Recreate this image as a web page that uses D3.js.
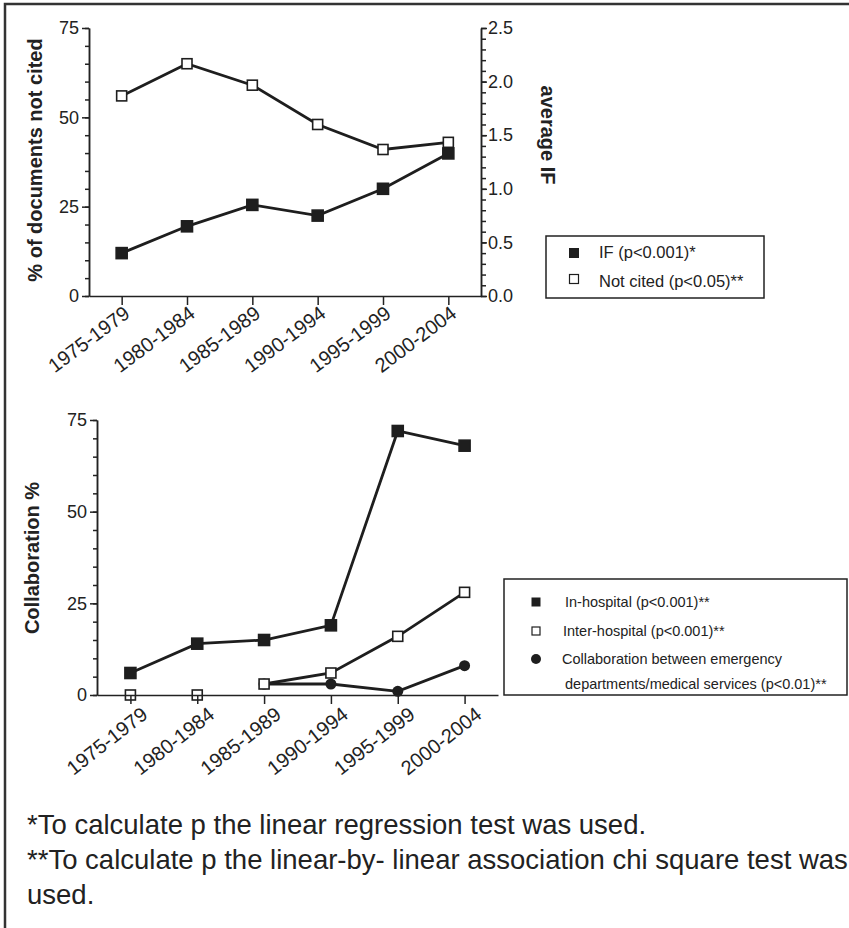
<!DOCTYPE html>
<html>
<head>
<meta charset="utf-8">
<script src="https://cdn.jsdelivr.net/npm/d3@7"></script>
<style>
  body { margin: 0; background: #fff; }
  svg { display: block; font-family: "Liberation Sans", Arial, sans-serif; }
  .axis path, .axis line { stroke: #222; stroke-width: 1.5; }
  .axis text { fill: #222; }
</style>
</head>
<body>
<div id="chart"></div>
<script>
// data
var periods = ["1975-1979", "1980-1984", "1985-1989", "1990-1994", "1995-1999", "2000-2004"];
var notCited = [56, 65, 59, 48, 41, 43];              // % of documents not cited (left axis)
var impactFactor = [0.40, 0.65, 0.85, 0.75, 1.00, 1.33]; // average IF (right axis)
var inHospital = [6, 14, 15, 19, 72, 68];
var interHospital = [0, 0, 3, 6, 16, 28];
var edCollab = [null, null, 3, 3, 1, 8];
var pctTicks = [0, 25, 50, 75];
var ifTicks = [0, 0.5, 1.0, 1.5, 2.0, 2.5];
var footnotes = [
  "*To calculate p the linear regression test was used.",
  "**To calculate p the linear-by- linear association chi square test was",
  "used."
];

var width = 849, height = 928;
var ink = "#1e1e1e";

var svg = d3.select("#chart")
  .append("svg")
  .attr("width", width)
  .attr("height", height);

// frame (left and top edges show)
svg.append("path")
  .attr("d", "M5," + height + "V4H" + width)
  .attr("fill", "none")
  .attr("stroke", "#333")
  .attr("stroke-width", 2.5);

function xLabels(dx, dy, angle) {
  return function (g) {
    g.selectAll(".tick text")
      .attr("x", 0).attr("y", 0).attr("dy", 0)
      .attr("transform", "translate(" + dx + "," + dy + ") rotate(" + angle + ")")
      .style("text-anchor", "end")
      .style("font-size", "20px");
  };
}

function drawSquares(g, data, x, y, size, filled) {
  g.selectAll(null)
    .data(data.map(function (v, i) { return { p: periods[i], v: v }; }).filter(function (d) { return d.v !== null; }))
    .enter().append("rect")
    .attr("x", function (d) { return x(d.p) - size / 2; })
    .attr("y", function (d) { return y(d.v) - size / 2; })
    .attr("width", size)
    .attr("height", size)
    .attr("fill", filled ? ink : "#fff")
    .attr("stroke", ink)
    .attr("stroke-width", 1.6);
}

function drawLine(g, data, x, y, defined) {
  var line = d3.line()
    .defined(defined || function (d) { return d !== null; })
    .x(function (d, i) { return x(periods[i]); })
    .y(function (d) { return y(d); });
  g.append("path")
    .datum(data)
    .attr("d", line)
    .attr("fill", "none")
    .attr("stroke", ink)
    .attr("stroke-width", 2.8);
}

// ---------- top chart ----------
var topChart = svg.append("g");
var x1 = d3.scalePoint().domain(periods).range([89, 481]).padding(0.5);
var yL = d3.scaleLinear().domain([0, 75]).range([296, 28]);
var yR = d3.scaleLinear().domain([0, 2.5]).range([296, 28]);

drawLine(topChart, notCited, x1, yL);
drawSquares(topChart, notCited, x1, yL, 10, false);
drawLine(topChart, impactFactor, x1, yR);
drawSquares(topChart, impactFactor, x1, yR, 11, true);

topChart.append("g").attr("class", "axis")
  .attr("transform", "translate(89,0)")
  .call(d3.axisLeft(yL).tickValues(d3.range(0, 76, 5)).tickSize(4).tickSizeOuter(0).tickFormat(""));
topChart.append("g").attr("class", "axis")
  .attr("transform", "translate(89,0)")
  .call(d3.axisLeft(yL).tickValues(pctTicks).tickSize(7).tickPadding(3).tickSizeOuter(0))
  .selectAll("text").style("font-size", "18px");

topChart.append("g").attr("class", "axis")
  .attr("transform", "translate(481,0)")
  .call(d3.axisRight(yR).tickValues(d3.range(0, 2.51, 0.1)).tickSize(5).tickSizeOuter(0).tickFormat(""));
topChart.append("g").attr("class", "axis")
  .attr("transform", "translate(481,0)")
  .call(d3.axisRight(yR).tickValues(ifTicks).tickSize(6).tickPadding(1).tickSizeOuter(0).tickFormat(d3.format(".1f")))
  .selectAll("text").style("font-size", "18px");

topChart.append("g").attr("class", "axis")
  .attr("transform", "translate(0,296)")
  .call(d3.axisBottom(x1).tickSize(9).tickSizeOuter(0))
  .call(xLabels(9, 20, -37));

topChart.append("text")
  .attr("transform", "translate(42,160) rotate(-90)")
  .attr("text-anchor", "middle")
  .style("font-size", "20px").style("font-weight", "bold").attr("fill", "#222")
  .text("% of documents not cited");

topChart.append("text")
  .attr("transform", "translate(541,135) rotate(90)")
  .attr("text-anchor", "middle")
  .style("font-size", "20px").style("font-weight", "bold").attr("fill", "#222")
  .text("average IF");

// top legend
var leg1 = topChart.append("g");
leg1.append("rect").attr("x", 546).attr("y", 236).attr("width", 218).attr("height", 62)
  .attr("fill", "#fff").attr("stroke", "#222").attr("stroke-width", 1.5);
leg1.append("rect").attr("x", 569).attr("y", 248).attr("width", 10).attr("height", 10).attr("fill", ink);
leg1.append("rect").attr("x", 569.5).attr("y", 274.5).attr("width", 9).attr("height", 9)
  .attr("fill", "#fff").attr("stroke", ink).attr("stroke-width", 1.2);
leg1.append("text").attr("x", 599).attr("y", 258).style("font-size", "16.5px").attr("fill", "#222").text("IF (p<0.001)*");
leg1.append("text").attr("x", 599).attr("y", 287).style("font-size", "16.5px").attr("fill", "#222").text("Not cited (p<0.05)**");

// ---------- bottom chart ----------
var botChart = svg.append("g");
var x2 = d3.scalePoint().domain(periods).range([97, 498]).padding(0.5);
var y2 = d3.scaleLinear().domain([0, 75]).range([695, 420]);

drawLine(botChart, inHospital, x2, y2);
drawSquares(botChart, inHospital, x2, y2, 11, true);
drawLine(botChart, edCollab, x2, y2);
botChart.selectAll(null)
  .data(edCollab.map(function (v, i) { return { p: periods[i], v: v }; }).filter(function (d) { return d.v !== null; }))
  .enter().append("circle")
  .attr("cx", function (d) { return x2(d.p); })
  .attr("cy", function (d) { return y2(d.v); })
  .attr("r", 5.5)
  .attr("fill", ink);
// zero values are not joined by the line
drawLine(botChart, interHospital, x2, y2, function (d) { return d > 0; });
drawSquares(botChart, interHospital, x2, y2, 10, false);

botChart.append("g").attr("class", "axis")
  .attr("transform", "translate(97,0)")
  .call(d3.axisLeft(y2).tickValues(d3.range(0, 76, 5)).tickSize(4).tickSizeOuter(0).tickFormat(""));
botChart.append("g").attr("class", "axis")
  .attr("transform", "translate(97,0)")
  .call(d3.axisLeft(y2).tickValues(pctTicks).tickSize(7).tickPadding(3).tickSizeOuter(0))
  .selectAll("text").style("font-size", "18px");

botChart.append("g").attr("class", "axis")
  .attr("transform", "translate(0,695)")
  .call(d3.axisBottom(x2).tickSize(9).tickSizeOuter(0))
  .call(xLabels(18, 22, -38));

botChart.append("text")
  .attr("transform", "translate(39,558) rotate(-90)")
  .attr("text-anchor", "middle")
  .style("font-size", "20px").style("font-weight", "bold").attr("fill", "#222")
  .text("Collaboration %");

// bottom legend
var leg2 = botChart.append("g");
leg2.append("rect").attr("x", 504).attr("y", 579).attr("width", 343).attr("height", 116)
  .attr("fill", "#fff").attr("stroke", "#222").attr("stroke-width", 1.5);
leg2.append("rect").attr("x", 531.5).attr("y", 597.5).attr("width", 9).attr("height", 9).attr("fill", ink);
leg2.append("rect").attr("x", 532).attr("y", 627).attr("width", 8).attr("height", 8)
  .attr("fill", "#fff").attr("stroke", ink).attr("stroke-width", 1.2);
leg2.append("circle").attr("cx", 536).attr("cy", 659).attr("r", 5).attr("fill", ink);
var legText = [
  { x: 565, y: 607, t: "In-hospital (p<0.001)**" },
  { x: 563, y: 636, t: "Inter-hospital (p<0.001)**" },
  { x: 562, y: 664, t: "Collaboration between emergency" },
  { x: 565, y: 689, t: "departments/medical services (p<0.01)**" }
];
leg2.selectAll(null).data(legText).enter().append("text")
  .attr("x", function (d) { return d.x; })
  .attr("y", function (d) { return d.y; })
  .style("font-size", "14.5px").attr("fill", "#222")
  .text(function (d) { return d.t; });

// footnotes
svg.selectAll(".foot").data(footnotes).enter().append("text")
  .attr("class", "foot")
  .attr("x", 27)
  .attr("y", function (d, i) { return 834 + i * 35; })
  .style("font-size", "27.5px").attr("fill", "#222")
  .text(function (d) { return d; });
</script>
</body>
</html>
